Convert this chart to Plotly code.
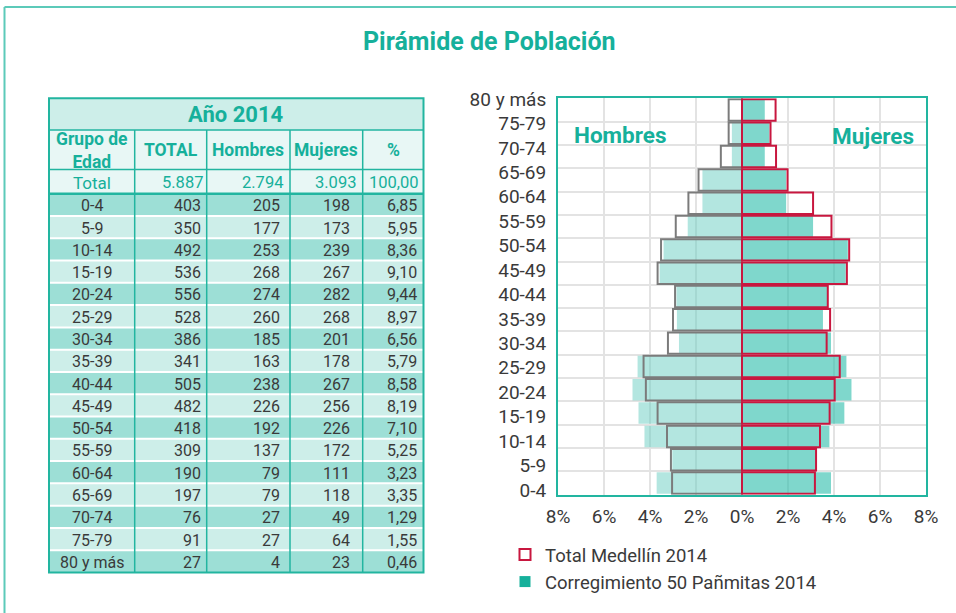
import plotly.graph_objects as go

W, H = 956, 613

# ---------------- table data ----------------
age_groups = ["0-4", "5-9", "10-14", "15-19", "20-24", "25-29", "30-34", "35-39",
              "40-44", "45-49", "50-54", "55-59", "60-64", "65-69", "70-74", "75-79", "80 y más"]
tab_total = [403, 350, 492, 536, 556, 528, 386, 341, 505, 482, 418, 309, 190, 197, 76, 91, 27]
tab_hombres = [205, 177, 253, 268, 274, 260, 185, 163, 238, 226, 192, 137, 79, 79, 27, 27, 4]
tab_mujeres = [198, 173, 239, 267, 282, 268, 201, 178, 267, 256, 226, 172, 111, 118, 49, 64, 23]
tab_pct = [6.85, 5.95, 8.36, 9.10, 9.44, 8.97, 6.56, 5.79, 8.58, 8.19, 7.10, 5.25, 3.23, 3.35, 1.29, 1.55, 0.46]
sum_total, sum_hombres, sum_mujeres, sum_pct = 5887, 2794, 3093, 100.00
table_headers = ["Grupo de<br>Edad", "TOTAL", "Hombres", "Mujeres", "%"]
table_year = "Año 2014"

# ---------------- pyramid data (% of population), 0-4 .. 80 y más ----------------
corr_hombres = [3.71, 3.03, 4.24, 4.50, 4.76, 4.54, 2.74, 2.83, 2.85, 3.58, 3.41, 2.36, 1.72, 1.72, 0.44, 0.44, 0.0]
corr_mujeres = [3.87, 3.22, 3.80, 4.45, 4.76, 4.54, 3.87, 3.52, 3.73, 4.51, 4.60, 3.09, 1.92, 1.92, 0.99, 1.19, 0.99]
med_hombres = [3.04, 3.09, 3.26, 3.67, 4.18, 4.28, 3.22, 3.00, 2.91, 3.67, 3.52, 2.88, 2.33, 1.89, 0.92, 0.58, 0.58]
med_mujeres = [3.17, 3.22, 3.39, 3.81, 4.03, 4.25, 3.68, 3.83, 3.73, 4.56, 4.66, 3.89, 3.09, 1.98, 1.48, 1.24, 1.46]

x_tickvals = [-8, -6, -4, -2, 0, 2, 4, 6, 8]
x_ticktext = ["8%", "6%", "4%", "2%", "0%", "2%", "4%", "6%", "8%"]

# ---------------- styles ----------------
TEAL = "#16b09b"
TEAL_LINE = "#22b5a0"
FRAME = "#5ccab9"
DARK_ROW = "#9ddfd6"
LIGHT_ROW = "#cdeee9"
PALE = "#e8f7f5"
TXT = "#3a3a3a"
CRIMSON = "#c8173f"
FONT = "Roboto"


def X(px):
    return px / W


def Y(py):
    return 1 - py / H


def fmt_int(v):
    return f"{v:,}".replace(",", ".")


def fmt_pct(v):
    return f"{v:.2f}".replace(".", ",")


n = len(age_groups)
y_pos = [i + 0.5 for i in range(n)]
label_pos = [0.2 + k * 16.77 / 16 for k in range(n)]

fig = go.Figure()
fig.add_trace(go.Bar(x=[-v for v in corr_hombres], y=y_pos, orientation="h",
                     marker=dict(color="rgba(103,205,193,0.5)", line=dict(width=0)),
                     showlegend=False, hoverinfo="skip"))
fig.add_trace(go.Bar(x=corr_mujeres, y=y_pos, orientation="h",
                     marker=dict(color="rgba(42,188,170,0.6)", line=dict(width=0)),
                     showlegend=False, hoverinfo="skip"))
fig.add_trace(go.Bar(x=[-v for v in med_hombres], y=y_pos, orientation="h",
                     marker=dict(color="rgba(0,0,0,0)", line=dict(color="#7b7b7b", width=2)),
                     showlegend=False, hoverinfo="skip"))
fig.add_trace(go.Bar(x=med_mujeres, y=y_pos, orientation="h",
                     marker=dict(color="rgba(0,0,0,0)", line=dict(color=CRIMSON, width=2)),
                     showlegend=False, hoverinfo="skip"))
fig.add_trace(go.Scatter(x=[None], y=[None], mode="markers", name="Total Medellín 2014",
                         marker=dict(symbol="square-open", size=11, color=CRIMSON, line=dict(width=2))))
fig.add_trace(go.Scatter(x=[None], y=[None], mode="markers", name="Corregimiento 50 Pañmitas 2014",
                         marker=dict(symbol="square", size=11, color=TEAL)))

shapes = []
annotations = []

# page frame
shapes.append(dict(type="line", xref="paper", yref="paper", x0=X(4.5), y0=Y(613), x1=X(4.5), y1=Y(7),
                   line=dict(color=FRAME, width=2)))
shapes.append(dict(type="line", xref="paper", yref="paper", x0=X(4.5), y0=Y(7), x1=X(956), y1=Y(7),
                   line=dict(color=FRAME, width=2)))

# table geometry
tx0, tx1 = 49, 423.5
col_edges = [49, 134.7, 206.7, 290, 362.7, 423.5]
y_year_top, y_head_top, y_total_top, y_data_top, y_bottom = 98.3, 130, 169.5, 193.7, 572.5
row_h = (y_bottom - y_data_top) / n


def rect(x0, y0, x1, y1, fill):
    shapes.append(dict(type="rect", xref="paper", yref="paper", x0=X(x0), y0=Y(y1), x1=X(x1), y1=Y(y0),
                       fillcolor=fill, line=dict(width=0), layer="below"))


def hline(y, x0, x1, color, w):
    shapes.append(dict(type="line", xref="paper", yref="paper", x0=X(x0), y0=Y(y), x1=X(x1), y1=Y(y),
                       line=dict(color=color, width=w)))


def vline(x, y0, y1, color, w):
    shapes.append(dict(type="line", xref="paper", yref="paper", x0=X(x), y0=Y(y0), x1=X(x), y1=Y(y1),
                       line=dict(color=color, width=w)))


def text(s, x, y, size, color, anchor="center", bold=False):
    annotations.append(dict(text=f"<b>{s}</b>" if bold else s, xref="paper", yref="paper",
                            x=X(x), y=Y(y), xanchor=anchor, yanchor="middle", showarrow=False,
                            font=dict(family=FONT, size=size, color=color)))


rect(tx0, y_year_top, tx1, y_head_top, LIGHT_ROW)
rect(tx0, y_head_top, tx1, y_total_top, PALE)
rect(tx0, y_total_top, tx1, y_data_top, PALE)
for i in range(n):
    top = y_data_top + i * row_h
    rect(tx0, top, tx1, top + row_h, DARK_ROW if i % 2 == 0 else LIGHT_ROW)
for i in range(1, n):
    hline(y_data_top + i * row_h, tx0, tx1, "white", 2)
for xe in col_edges[1:-1]:
    vline(xe, y_head_top, y_bottom, TEAL_LINE, 1.5)
hline(y_head_top, tx0, tx1, TEAL_LINE, 1.5)
hline(y_total_top, tx0, tx1, TEAL_LINE, 1.5)
hline(y_data_top, tx0, tx1, TEAL_LINE, 2.5)
shapes.append(dict(type="rect", xref="paper", yref="paper", x0=X(tx0), y0=Y(y_bottom), x1=X(tx1),
                   y1=Y(y_year_top), line=dict(color=TEAL_LINE, width=2)))

# table texts
text(table_year, (tx0 + tx1) / 2, 115, 22, TEAL, bold=True)
col_centers = [(col_edges[i] + col_edges[i + 1]) / 2 for i in range(5)]
for c, h in zip(col_centers, table_headers):
    text(h, c, 150, 17.5, TEAL, bold=True)
total_right = [205, 285, 358, 421]
yc = (y_total_top + y_data_top) / 2 + 1
text("Total", col_centers[0], yc, 17, TEAL)
for xr, s in zip(total_right, [fmt_int(sum_total), fmt_int(sum_hombres), fmt_int(sum_mujeres), fmt_pct(sum_pct)]):
    text(s, xr, yc, 16.5, TEAL, anchor="right")
data_right = [203, 282, 352, 419]
for i in range(n):
    yc = y_data_top + (i + 0.5) * row_h + 1
    text(age_groups[i], col_centers[0], yc, 16, TXT)
    vals = [fmt_int(tab_total[i]), fmt_int(tab_hombres[i]), fmt_int(tab_mujeres[i]), fmt_pct(tab_pct[i])]
    for xr, s in zip(data_right, vals):
        text(s, xr, yc, 16, TXT, anchor="right")

# chart texts
text("Pirámide de Población", 489, 41, 25, TEAL, bold=True)
text("Hombres", 620, 135, 22.5, TEAL, bold=True)
text("Mujeres", 873, 136, 22.5, TEAL, bold=True)

fig.update_layout(
    width=W, height=H,
    margin=dict(l=0, r=0, t=0, b=0, autoexpand=False),
    paper_bgcolor="white", plot_bgcolor="white",
    font=dict(family=FONT, color=TXT),
    barmode="overlay", bargap=0.08,
    shapes=shapes, annotations=annotations,
    legend=dict(x=X(505), y=Y(536), xanchor="left", yanchor="top",
                font=dict(family=FONT, size=18.5, color=TXT), bgcolor="rgba(0,0,0,0)",
                tracegroupgap=0),
    xaxis=dict(domain=[X(558), X(926)], range=[-8, 8], tickmode="array",
               tickvals=x_tickvals, ticktext=x_ticktext, showgrid=True, gridcolor="#e3e3e3",
               gridwidth=2, zeroline=False, showline=True, mirror=True, linecolor=TEAL_LINE,
               linewidth=2, ticks="", tickfont=dict(family=FONT, size=19, color=TXT),
               ticklabelstandoff=3, fixedrange=True),
    yaxis=dict(domain=[Y(494.7), Y(98.3)], range=[0, n], tickmode="array",
               tickvals=label_pos, ticktext=age_groups, showgrid=False, zeroline=False,
               minor=dict(tickmode="array", tickvals=list(range(1, n)), showgrid=True,
                          gridcolor="#e3e3e3", gridwidth=2, ticks=""),
               showline=True, mirror=True, linecolor=TEAL_LINE, linewidth=2, ticks="",
               tickfont=dict(family=FONT, size=19, color=TXT), ticklabelstandoff=6,
               fixedrange=True),
)

fig.write_html("out.html", config={"displayModeBar": False},
               post_script="document.body.style.margin='0px';")
